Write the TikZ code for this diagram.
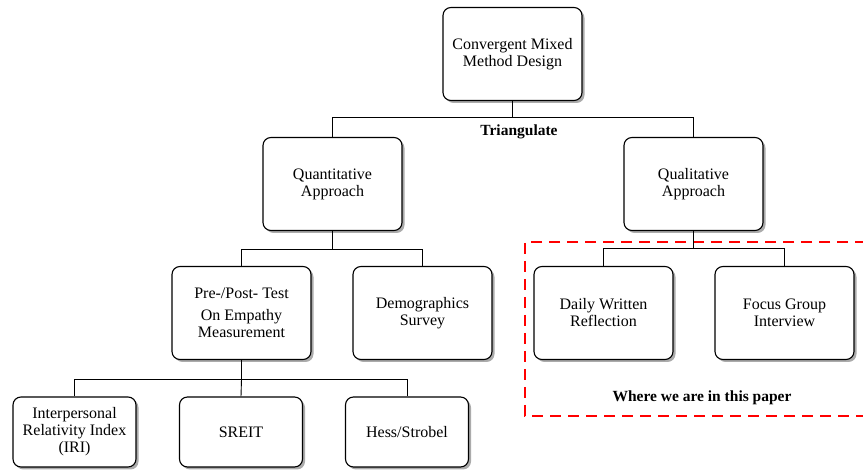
\documentclass[tikz,border=0pt]{standalone}
\usepackage{fontspec}
\setmainfont{Liberation Serif}
\usetikzlibrary{shadows}
\begin{document}
\begin{tikzpicture}[x=1pt,y=-1pt,
  box/.style={draw, rounded corners=8pt, line width=1.1pt, fill=white, align=center,
    font=\fontsize{16}{17}\selectfont,
    drop shadow={shadow xshift=2.5pt, shadow yshift=-2.5pt, opacity=0.55, fill=black!60}},
  bigbox/.style={box, minimum width=139pt, minimum height=93pt},
  smallbox/.style={box, minimum width=123pt, minimum height=70pt},
  link/.style={draw, line width=0.9pt},
  boldlbl/.style={font=\fontsize{15.5}{17}\selectfont\bfseries}]
\useasboundingbox (0,0) rectangle (863,470);
% dashed region
\draw[red, line width=2.8pt, dash pattern=on 11pt off 7pt] (866,242) -- (525,242) -- (525,416) -- (866,416);
\node[boldlbl] (where) at (702,398) {Where we are in this paper};
% nodes
\node[bigbox] (top) at (512.5,54) {Convergent Mixed\\Method Design};
\node[bigbox] (quant) at (332.5,184) {Quantitative\\Approach};
\node[bigbox] (qual) at (693.5,184) {Qualitative\\Approach};
\node[bigbox] (pre) at (241.5,313) {Pre-/Post- Test\\[5pt]On Empathy\\Measurement};
\node[bigbox] (demo) at (422.5,313) {Demographics\\Survey};
\node[bigbox] (daily) at (603.5,313) {Daily Written\\Reflection};
\node[bigbox] (focus) at (784.5,313) {Focus Group\\Interview};
\node[smallbox] (iri) at (74.5,432) {Interpersonal\\Relativity Index\\(IRI)};
\node[smallbox] (sreit) at (241,432) {SREIT};
\node[smallbox] (hess) at (407,432) {Hess/Strobel};
\node[boldlbl] (tri) at (519,132) {Triangulate};
% junctions
\coordinate (j1) at (512.5,117);
\coordinate (j2) at (332.5,249);
\coordinate (j3) at (693.5,248);
\coordinate (j4) at (241.5,379);
% connectors
\draw[link] (top.south) -- (j1);
\draw[link] (quant.north) -- (quant.north |- j1) -- (qual.north |- j1) -- (qual.north);
\draw[link] (quant.south) -- (j2);
\draw[link] (pre.north) -- (pre.north |- j2) -- (demo.north |- j2) -- (demo.north);
\draw[link] (qual.south) -- (j3);
\draw[link] (daily.north) -- (daily.north |- j3) -- (focus.north |- j3) -- (focus.north);
\draw[link] (pre.south) -- (j4);
\draw[link] (iri.north) -- (iri.north |- j4) -- (hess.north |- j4) -- (hess.north);
\draw[link] (sreit.north) -- (j4);
\end{tikzpicture}
\end{document}
